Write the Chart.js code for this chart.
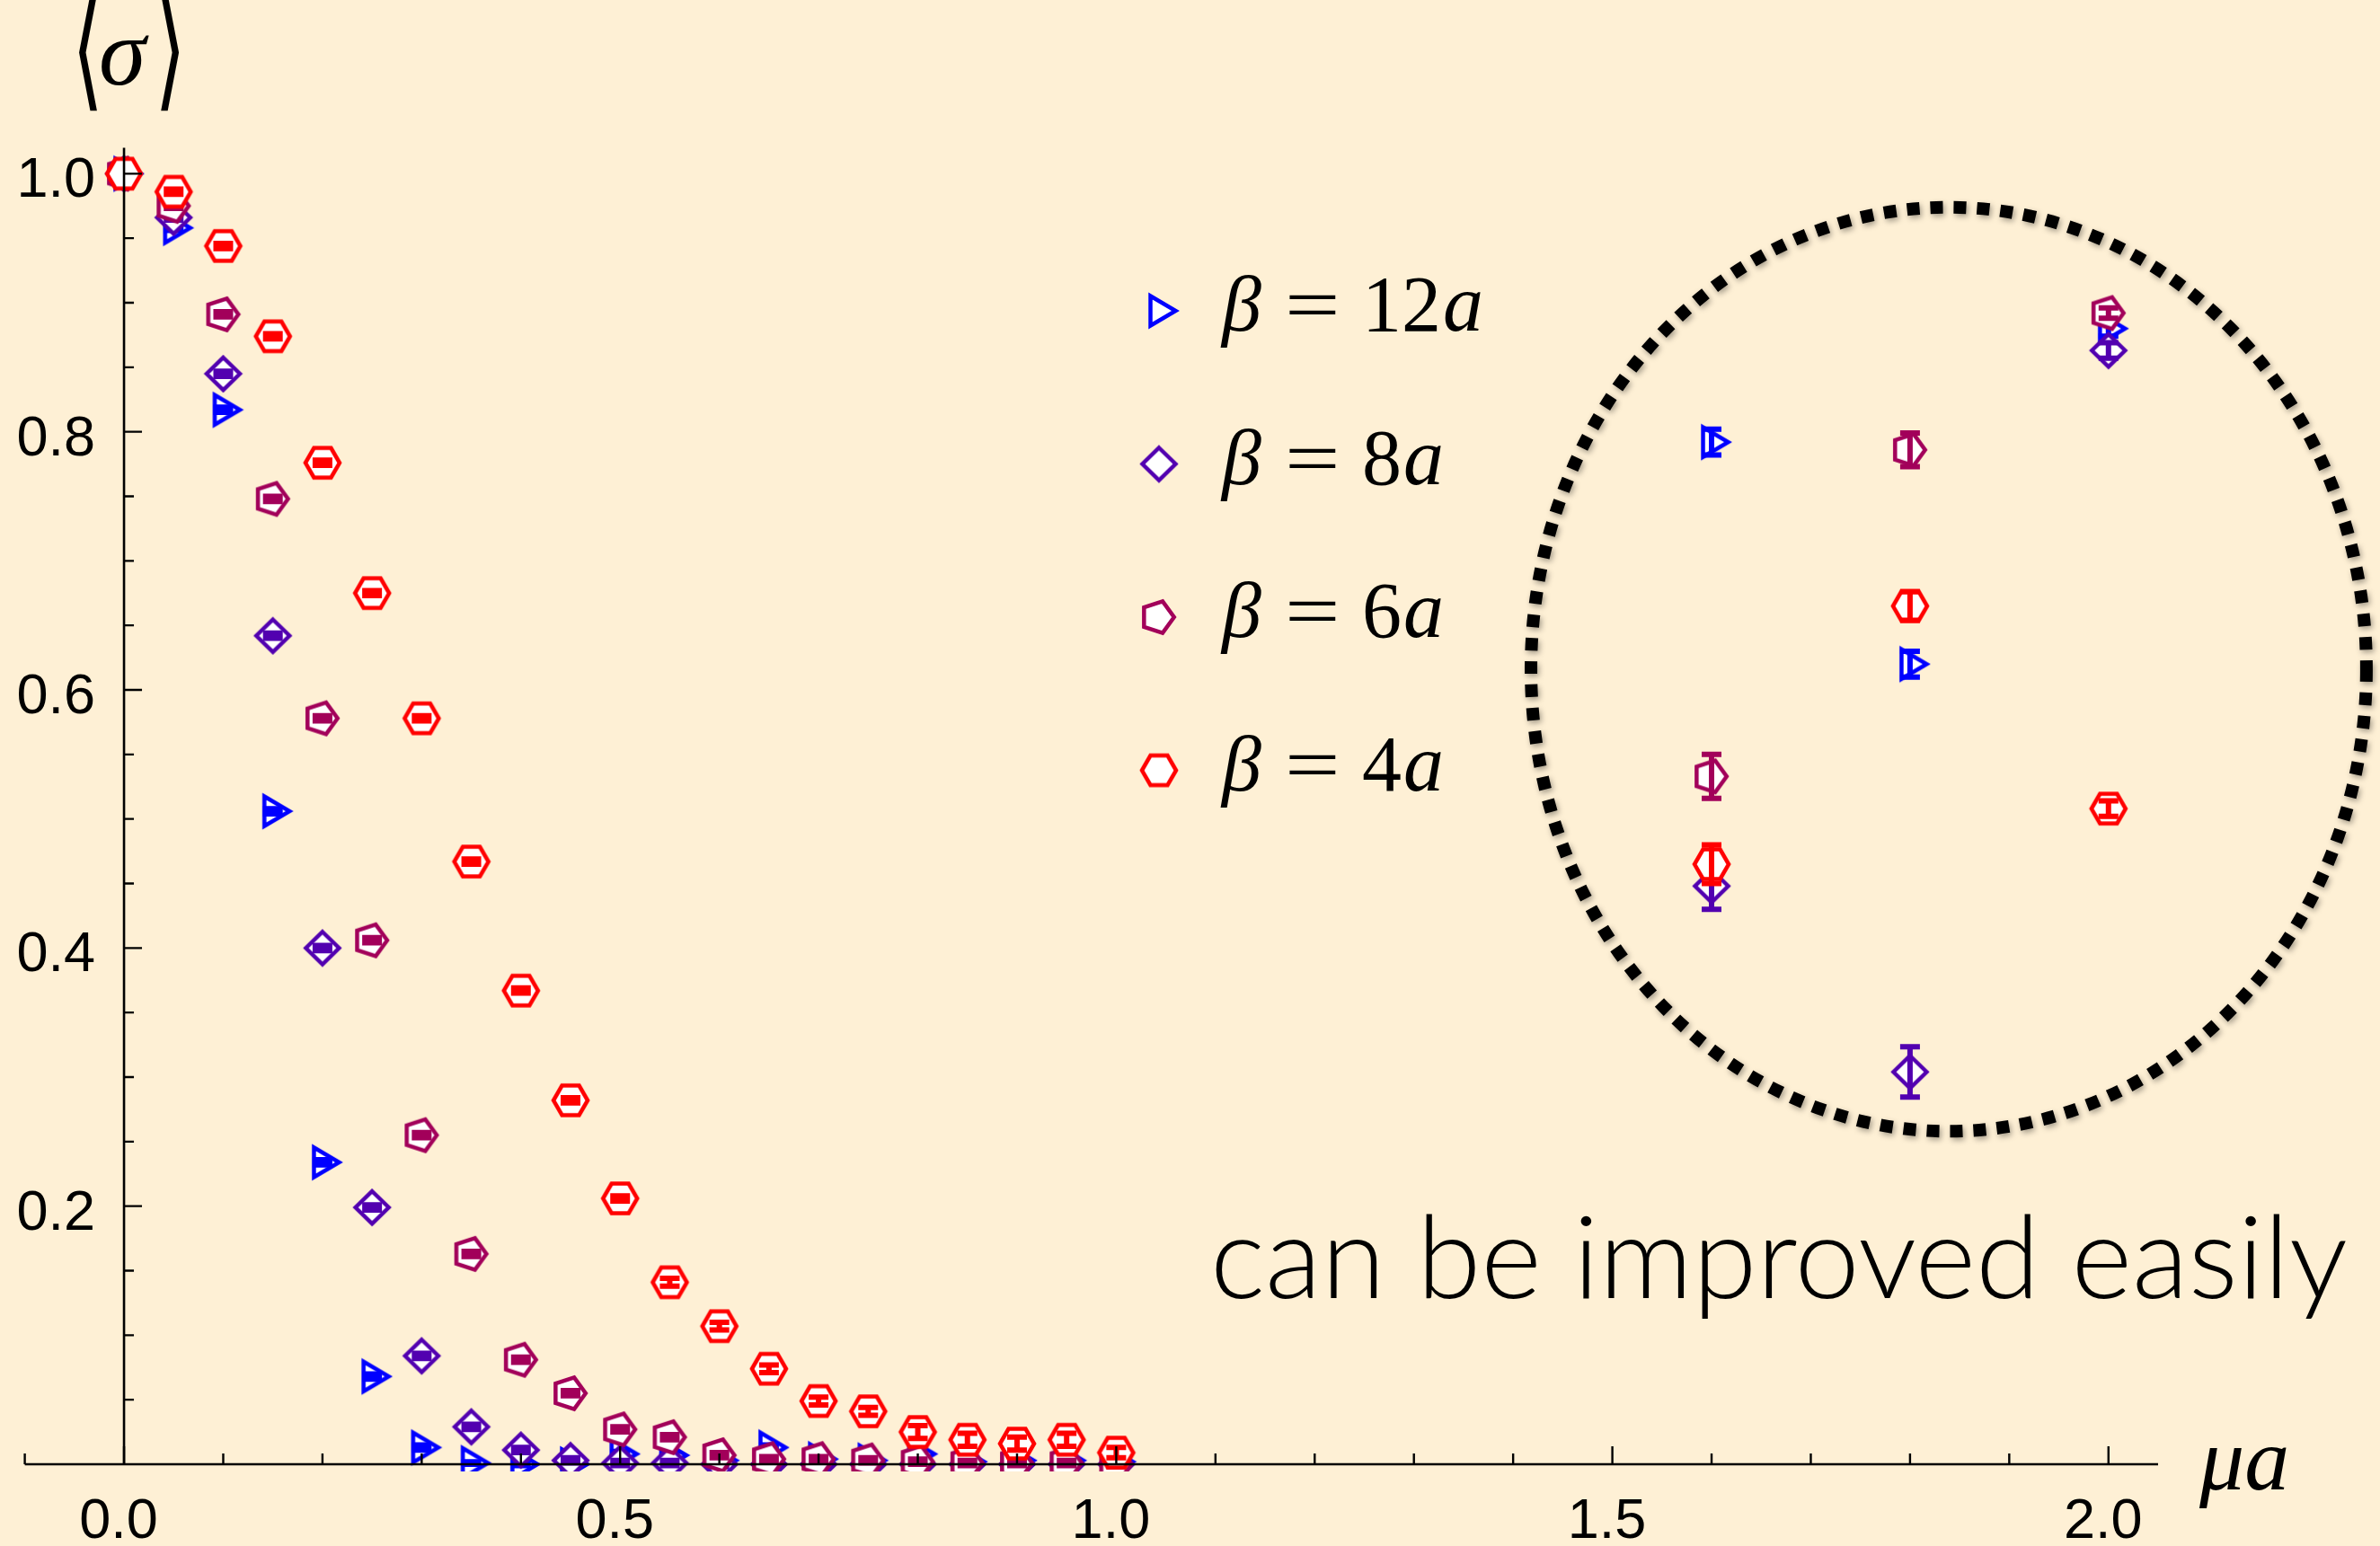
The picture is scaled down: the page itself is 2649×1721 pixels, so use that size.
<!DOCTYPE html>
<html>
<head>
<meta charset="utf-8">
<title>sign average vs mu a</title>
<script src="https://cdn.jsdelivr.net/npm/chart.js@4/dist/chart.umd.min.js"></script>
<style>
  html, body { margin: 0; padding: 0; background: #fef0d5; }
  canvas { display: block; }
</style>
</head>
<body>
<canvas id="sigma" width="2649" height="1721"></canvas>
<script>
// mu*a values of the runs
const muA = [0.00, 0.05, 0.10, 0.15, 0.20, 0.25, 0.30, 0.35, 0.40, 0.45, 0.50,
             0.55, 0.60, 0.65, 0.70, 0.75, 0.80, 0.85, 0.90, 0.95, 1.00,
             1.6, 1.8, 2.0];

// <sigma> and its error for each beta
const sigma12 = [1.000, 0.958, 0.817, 0.506, 0.234, 0.068, 0.013, 0.001, 0.000, 0.000, 0.008,
                 0.007, 0.003, 0.013, 0.004, 0.003, 0.008, 0.002, 0.003, 0.003, 0.002,
                 0.792, 0.620, 0.880];
const err12 = [0, 0.002, 0.002, 0.002, 0.002, 0.002, 0.002, 0.001, 0.001, 0.001, 0.002,
               0.002, 0.002, 0.002, 0.002, 0.002, 0.002, 0.002, 0.002, 0.002, 0.002,
               0.010, 0.010, 0.006];

const sigma8 = [1.000, 0.966, 0.845, 0.642, 0.400, 0.199, 0.084, 0.029, 0.011, 0.003, 0.001,
                0.001, 0.000, 0.000, 0.000, 0.000, 0.000, 0.000, 0.000, 0.000, 0.000,
                0.448, 0.304, 0.863];
const err8 = [0, 0.002, 0.002, 0.002, 0.002, 0.002, 0.002, 0.002, 0.002, 0.002, 0.002,
              0.002, 0.002, 0.002, 0.002, 0.002, 0.002, 0.002, 0.002, 0.002, 0.002,
              0.018, 0.0195, 0.006];

const sigma6 = [1.000, 0.975, 0.891, 0.748, 0.578, 0.406, 0.255, 0.163, 0.081, 0.055, 0.027,
                0.021, 0.007, 0.004, 0.004, 0.003, 0.002, 0.001, 0.001, 0.001, 0.000,
                0.533, 0.786, 0.892];
const err6 = [0, 0.002, 0.002, 0.002, 0.002, 0.002, 0.002, 0.002, 0.002, 0.002, 0.002,
              0.002, 0.002, 0.002, 0.002, 0.002, 0.002, 0.002, 0.002, 0.002, 0.002,
              0.017, 0.013, 0.004];

const sigma4 = [1.000, 0.986, 0.944, 0.874, 0.776, 0.675, 0.578, 0.467, 0.367, 0.282, 0.206,
                0.141, 0.107, 0.074, 0.049, 0.041, 0.025, 0.019, 0.016, 0.019, 0.009,
                0.465, 0.665, 0.508];
const err4 = [0, 0.002, 0.002, 0.002, 0.002, 0.002, 0.002, 0.002, 0.002, 0.002, 0.002,
              0.003, 0.003, 0.003, 0.003, 0.003, 0.005, 0.005, 0.005, 0.005, 0.004,
              0.015, 0.011, 0.006];

const betaLabels = ['12', '8', '6', '4'];

// axis ticks
const xMajor = [0, 0.5, 1.0, 1.5, 2.0];
const xLabels = ['0.0', '0.5', '1.0', '1.5', '2.0'];
const xMinor = [-0.1, 0.1, 0.2, 0.3, 0.4, 0.6, 0.7, 0.8, 0.9, 1.1, 1.2, 1.3, 1.4, 1.6, 1.7, 1.8, 1.9];
const yMajor = [0.2, 0.4, 0.6, 0.8, 1.0];
const yLabels = ['0.2', '0.4', '0.6', '0.8', '1.0'];
const yMinor = [0.05, 0.1, 0.15, 0.25, 0.3, 0.35, 0.45, 0.5, 0.55, 0.65, 0.7, 0.75, 0.85, 0.9, 0.95];

// dotted ring around the large mu points (data units)
const ringCenter = [1.839, 0.616];
const ringRadius = [0.421, 0.358];

const BG = '#fef0d5';
const colors = ['#0000ff', '#5200b0', '#a2005a', '#ff0000'];

// hollow marker glyphs
function marker(color, pts) {
  const c = document.createElement('canvas');
  c.width = 56; c.height = 56;
  const g = c.getContext('2d');
  g.translate(28, 28);
  g.beginPath();
  pts.forEach(([px, py], i) => i ? g.lineTo(px, py) : g.moveTo(px, py));
  g.closePath();
  g.fillStyle = '#ffffff';
  g.fill();
  g.lineWidth = 4.5;
  g.lineJoin = 'miter';
  g.strokeStyle = color;
  g.stroke();
  return c;
}

function polygon(n, r, dx) {
  const pts = [];
  for (let k = 0; k < n; k++) {
    const a = k * 2 * Math.PI / n;
    pts.push([r * Math.cos(a) + dx, r * Math.sin(a)]);
  }
  return pts;
}

const glyphs = [
  marker(colors[0], [[-9.5, -16.5], [18.5, 0], [-9.5, 16.5]]),
  marker(colors[1], [[0, -18], [18.5, 0], [0, 18], [-18.5, 0]]),
  marker(colors[2], polygon(5, 18.5, -1.7)),
  marker(colors[3], polygon(6, 19, 0))
];

function points(vals) {
  return muA.map((m, i) => ({ x: m, y: vals[i] }));
}

const series = [sigma12, sigma8, sigma6, sigma4];
const errors = [err12, err8, err6, err4];

const datasets = series.map((vals, k) => ({
  label: 'beta = ' + betaLabels[k] + 'a',
  data: points(vals),
  borderColor: colors[k],
  backgroundColor: colors[k],
  pointStyle: glyphs[k],
  pointRadius: 20,
  showLine: false,
  order: 4 - k,
  clip: { left: 60, top: 60, right: 60, bottom: 8 }
}));

const background = {
  id: 'background',
  beforeDraw(chart) {
    const ctx = chart.ctx;
    ctx.save();
    ctx.fillStyle = BG;
    ctx.fillRect(0, 0, chart.width, chart.height);
    ctx.restore();
  }
};

const errorBars = {
  id: 'errorBars',
  afterDatasetDraw(chart, args) {
    const { ctx, chartArea: area, scales: { y } } = chart;
    const errs = errors[args.index];
    const vals = series[args.index];
    ctx.save();
    ctx.beginPath();
    ctx.rect(area.left - 60, area.top - 60, area.right - area.left + 120, area.bottom - area.top + 68);
    ctx.clip();
    ctx.strokeStyle = colors[args.index];
    ctx.lineWidth = 6;
    args.meta.data.forEach((pt, i) => {
      const e = errs[i];
      if (!e) return;
      const top = y.getPixelForValue(vals[i] + e);
      const bot = y.getPixelForValue(vals[i] - e);
      ctx.beginPath();
      ctx.moveTo(pt.x, top); ctx.lineTo(pt.x, bot);
      ctx.moveTo(pt.x - 11, top); ctx.lineTo(pt.x + 11, top);
      ctx.moveTo(pt.x - 11, bot); ctx.lineTo(pt.x + 11, bot);
      ctx.stroke();
    });
    ctx.restore();
  }
};

const axes = {
  id: 'axes',
  beforeDatasetsDraw(chart) {
    const { ctx, scales: { x, y } } = chart;
    const x0 = x.getPixelForValue(0);
    const y0 = y.getPixelForValue(0);
    ctx.save();
    ctx.fillStyle = '#000';
    ctx.font = '63px "Liberation Sans", Arial, sans-serif';
    ctx.textBaseline = 'alphabetic';
    ctx.textAlign = 'right';
    yMajor.forEach((v, i) => ctx.fillText(yLabels[i], x0 - 32, y.getPixelForValue(v) + 26));
    ctx.textAlign = 'center';
    xMajor.forEach((v, i) => ctx.fillText(xLabels[i], x.getPixelForValue(v) - 6, y0 + 82));
    ctx.restore();
  },
  afterDatasetsDraw(chart) {
    const { ctx, chartArea: area, scales: { x, y } } = chart;
    const x0 = x.getPixelForValue(0);
    const y0 = y.getPixelForValue(0);
    ctx.save();
    ctx.strokeStyle = '#000';
    ctx.lineWidth = 2.6;
    ctx.beginPath();
    ctx.moveTo(area.left, y0); ctx.lineTo(area.right, y0);
    ctx.moveTo(x0, area.top); ctx.lineTo(x0, y0);
    ctx.stroke();

    ctx.lineWidth = 2.4;
    ctx.beginPath();
    xMajor.forEach(v => { const px = x.getPixelForValue(v); ctx.moveTo(px, y0); ctx.lineTo(px, y0 - 20); });
    xMinor.forEach(v => { const px = x.getPixelForValue(v); ctx.moveTo(px, y0); ctx.lineTo(px, y0 - 12); });
    yMajor.forEach(v => { const py = y.getPixelForValue(v); ctx.moveTo(x0, py); ctx.lineTo(x0 + 20, py); });
    yMinor.forEach(v => { const py = y.getPixelForValue(v); ctx.moveTo(x0, py); ctx.lineTo(x0 + 11, py); });
    ctx.stroke();
    ctx.restore();
  },
  afterDraw(chart) {
    const { ctx, scales: { x, y } } = chart;
    ctx.save();
    ctx.fillStyle = '#000';

    // <sigma> on the vertical axis
    ctx.font = '100px "DejaVu Sans", sans-serif';
    ctx.save();
    ctx.translate(80, 104);
    ctx.scale(0.9, 1.45);
    ctx.fillText('\u27E8', 0, 0);
    ctx.restore();
    ctx.font = 'italic 106px "Liberation Serif", serif';
    ctx.fillText('\u03C3', 110, 94);
    ctx.font = '100px "DejaVu Sans", sans-serif';
    ctx.save();
    ctx.translate(172, 104);
    ctx.scale(0.9, 1.45);
    ctx.fillText('\u27E9', 0, 0);
    ctx.restore();

    // mu a on the horizontal axis
    ctx.font = 'italic 100px "Liberation Serif", serif';
    ctx.fillText('\u03BCa', 2448, 1658);

    // legend
    const lx = 1290;
    betaLabels.forEach((b, k) => {
      const cy = 346 + k * 170.5;
      const g = glyphs[k];
      ctx.drawImage(g, lx - g.width / 2, cy - g.height / 2);
      const base = cy + 22;
      ctx.font = 'italic 88px "Liberation Serif", serif';
      ctx.fillText('\u03B2', 1360, base);
      ctx.font = '84px "Liberation Serif", serif';
      ctx.save();
      ctx.translate(1430, base);
      ctx.scale(1.3, 1);
      ctx.fillText('=', 0, 0);
      ctx.restore();
      ctx.font = '88px "Liberation Serif", serif';
      ctx.fillText(b, 1516, base);
      const w = ctx.measureText(b).width;
      ctx.font = 'italic 90px "Liberation Serif", serif';
      ctx.fillText('a', 1516 + w + 2, base);
    });

    // note under the ring
    ctx.font = '300 128px Lato, "Open Sans", sans-serif';
    const note = 'can be improved easily';
    const nw = ctx.measureText(note).width;
    ctx.save();
    ctx.translate(1347, 1445);
    ctx.scale(1266 / nw, 1);
    ctx.fillText(note, 0, 0);
    ctx.restore();

    // dotted ring
    const cx = x.getPixelForValue(ringCenter[0]);
    const cy = y.getPixelForValue(ringCenter[1]);
    const rx = x.getPixelForValue(ringCenter[0] + ringRadius[0]) - cx;
    const ry = cy - y.getPixelForValue(ringCenter[1] + ringRadius[1]);
    ctx.strokeStyle = '#000';
    ctx.lineWidth = 14;
    ctx.setLineDash([14, 12]);
    ctx.shadowColor = 'rgba(0,0,0,0.35)';
    ctx.shadowBlur = 6;
    ctx.shadowOffsetX = 2;
    ctx.shadowOffsetY = 3;
    ctx.beginPath();
    ctx.ellipse(cx, cy, rx, ry, 0, 0, Math.PI * 2);
    ctx.stroke();
    ctx.restore();
  }
};

new Chart(document.getElementById('sigma'), {
  type: 'scatter',
  data: { datasets },
  options: {
    responsive: false,
    animation: false,
    devicePixelRatio: 1,
    events: [],
    layout: { padding: { left: 27.6, right: 247, top: 164.6, bottom: 91 } },
    scales: {
      x: { type: 'linear', min: -0.1, max: 2.05, display: false },
      y: { type: 'linear', min: 0, max: 1.02, display: false }
    },
    plugins: {
      legend: { display: false },
      tooltip: { enabled: false }
    }
  },
  plugins: [background, errorBars, axes]
});
</script>
</body>
</html>
